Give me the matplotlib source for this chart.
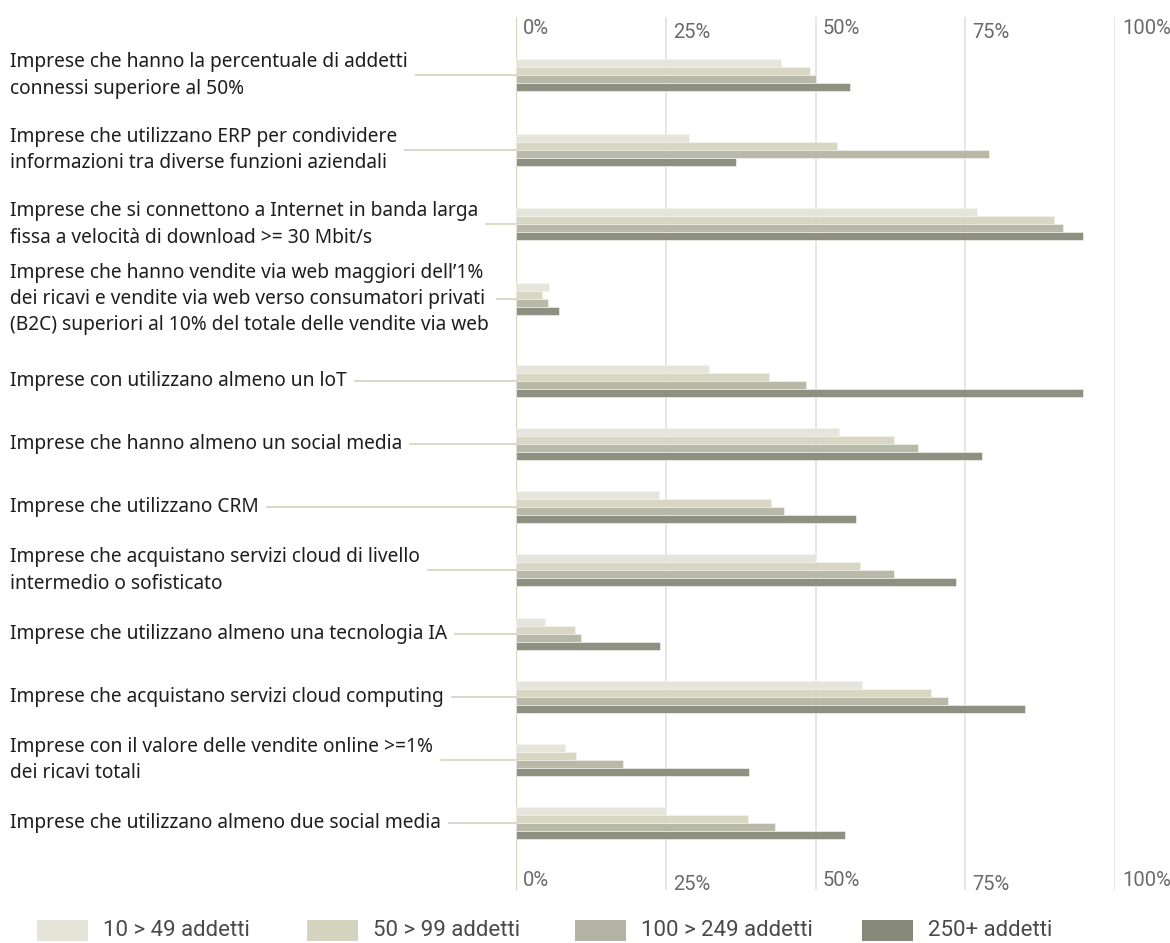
import matplotlib
matplotlib.use("Agg")
import matplotlib.pyplot as plt
import matplotlib.transforms as mtrans
from matplotlib.lines import Line2D
from matplotlib.patches import Rectangle

# categories: the first four sit in a slightly taller block than the others
cat_top = [
    "Imprese che hanno la percentuale di addetti\nconnessi superiore al 50%",
    "Imprese che utilizzano ERP per condividere\ninformazioni tra diverse funzioni aziendali",
    "Imprese che si connettono a Internet in banda larga\nfissa a velocità di download >= 30 Mbit/s",
    "Imprese che hanno vendite via web maggiori dell\u20191%\ndei ricavi e vendite via web verso consumatori privati\n(B2C) superiori al 10% del totale delle vendite via web",
]
cat_bottom = [
    "Imprese con utilizzano almeno un loT",
    "Imprese che hanno almeno un social media",
    "Imprese che utilizzano CRM",
    "Imprese che acquistano servizi cloud di livello\nintermedio o sofisticato",
    "Imprese che utilizzano almeno una tecnologia IA",
    "Imprese che acquistano servizi cloud computing",
    "Imprese con il valore delle vendite online >=1%\ndei ricavi totali",
    "Imprese che utilizzano almeno due social media",
]

series_names = ["10 > 49 addetti", "50 > 99 addetti", "100 > 249 addetti", "250+ addetti"]

# values in %, same order as cat_top + cat_bottom
v_10_49 = [44.3, 28.9, 76.9, 5.5, 32.3, 53.9, 23.8, 50.0, 4.8, 57.8, 8.1, 25.0]
v_50_99 = [49.0, 53.6, 89.8, 4.4, 42.2, 63.1, 42.5, 57.5, 9.8, 69.3, 10.0, 38.8]
v_100_249 = [50.0, 79.0, 91.3, 5.4, 48.4, 67.1, 44.8, 63.1, 10.8, 72.1, 17.9, 43.3]
v_250 = [55.8, 36.7, 94.6, 7.2, 94.6, 77.8, 56.7, 73.4, 24.1, 84.9, 38.9, 55.0]

ticks = [0, 25, 50, 75, 100]
tick_labels = ["0%", "25%", "50%", "75%", "100%"]

colors = ["#e4e4d9", "#d5d4c0", "#b3b4a3", "#868878"]
W, H = 1170, 943
LABEL_FONT = ["Noto Sans", "DejaVu Sans"]
TICK_FONT = ["Roboto", "DejaVu Sans"]

fig = plt.figure(figsize=(W / 100, H / 100), dpi=100)


def fr(x0, y0, x1, y1):
    # pixel box (top-left origin) -> figure fraction rect
    return [x0 / W, 1 - y1 / H, (x1 - x0) / W, (y1 - y0) / H]


# background axes with gridlines and tick labels
bg = fig.add_axes(fr(516, 17, 1115, 890))
bg.set_xlim(0, 100)
bg.set_ylim(0, 1)
for t in ticks[1:]:
    bg.axvline(t, color="#e4e4e4", lw=1.3, zorder=0)
bg.axvline(0, color="#d5d5c2", lw=1.6, zorder=0)
bg.axis("off")

tr_top = mtrans.blended_transform_factory(bg.transData, fig.transFigure)
dys = [0, -4, 0, -4, 0]
for t, lab, dy in zip(ticks, tick_labels, dys):
    for ypix in (28, 880):
        tr = mtrans.offset_copy(tr_top, fig=fig, x=7, y=dy, units="dots")
        fig.text(t, 1 - ypix / H, lab, transform=tr, ha="left", va="center",
                 fontsize=14.5, color="#6a6a6a", family=TICK_FONT)

all_vals = [v_10_49, v_50_99, v_100_249, v_250]
blocks = [
    (cat_top, 0, fr(516, 38.25, 1115, 336.25), 74.5),
    (cat_bottom, 4, fr(516, 349.4, 1115, 854.6), 63.14),
]

label_texts = []
for cats, start, rect, step in blocks:
    ax = fig.add_axes(rect)
    ax.set_xlim(0, 100)
    n = len(cats)
    ax.set_ylim(n - 0.5, -0.5)
    ax.patch.set_alpha(0)
    ax.axis("off")
    h = 8 / step
    for k, vals in enumerate(all_vals):
        ys = [i + (k - 1.5) * h for i in range(n)]
        ax.barh(ys, vals[start:start + n], height=h, color=colors[k],
                edgecolor="#f4f4ee", linewidth=0.5, alpha=0.93, zorder=2)
    tr = mtrans.blended_transform_factory(fig.transFigure, ax.transData)
    for i, c in enumerate(cats):
        txt = fig.text(10 / W, i, c, transform=tr, ha="left", va="center",
                       fontsize=13.8, color="#1e1e1e", family=LABEL_FONT,
                       linespacing=1.42)
        label_texts.append((txt, ax, i))

# leader lines from the end of each label to the axis
fig.canvas.draw()
r = fig.canvas.get_renderer()
for txt, ax, i in label_texts:
    bb = txt.get_window_extent(renderer=r)
    y = ax.transData.transform((0, i))[1]
    x0 = bb.x1 + 8
    x1 = bg.transData.transform((0, 0))[0]
    fig.add_artist(Line2D([x0 / W, x1 / W], [y / (H), y / (H)],
                          transform=fig.transFigure, color="#d5d5c2", lw=1.3))

# legend
sq_x = [37, 307, 575, 862]
for x, name, c in zip(sq_x, series_names, colors):
    fig.add_artist(Rectangle((x / W, 1 - 941 / H), 51 / W, 21 / H,
                             transform=fig.transFigure, color=c, lw=0))
    fig.text((x + 66) / W, 1 - 930 / H, name, ha="left", va="center",
             fontsize=16, color="#4a4a4a", family=TICK_FONT)

fig.savefig("out.png", dpi=100)
